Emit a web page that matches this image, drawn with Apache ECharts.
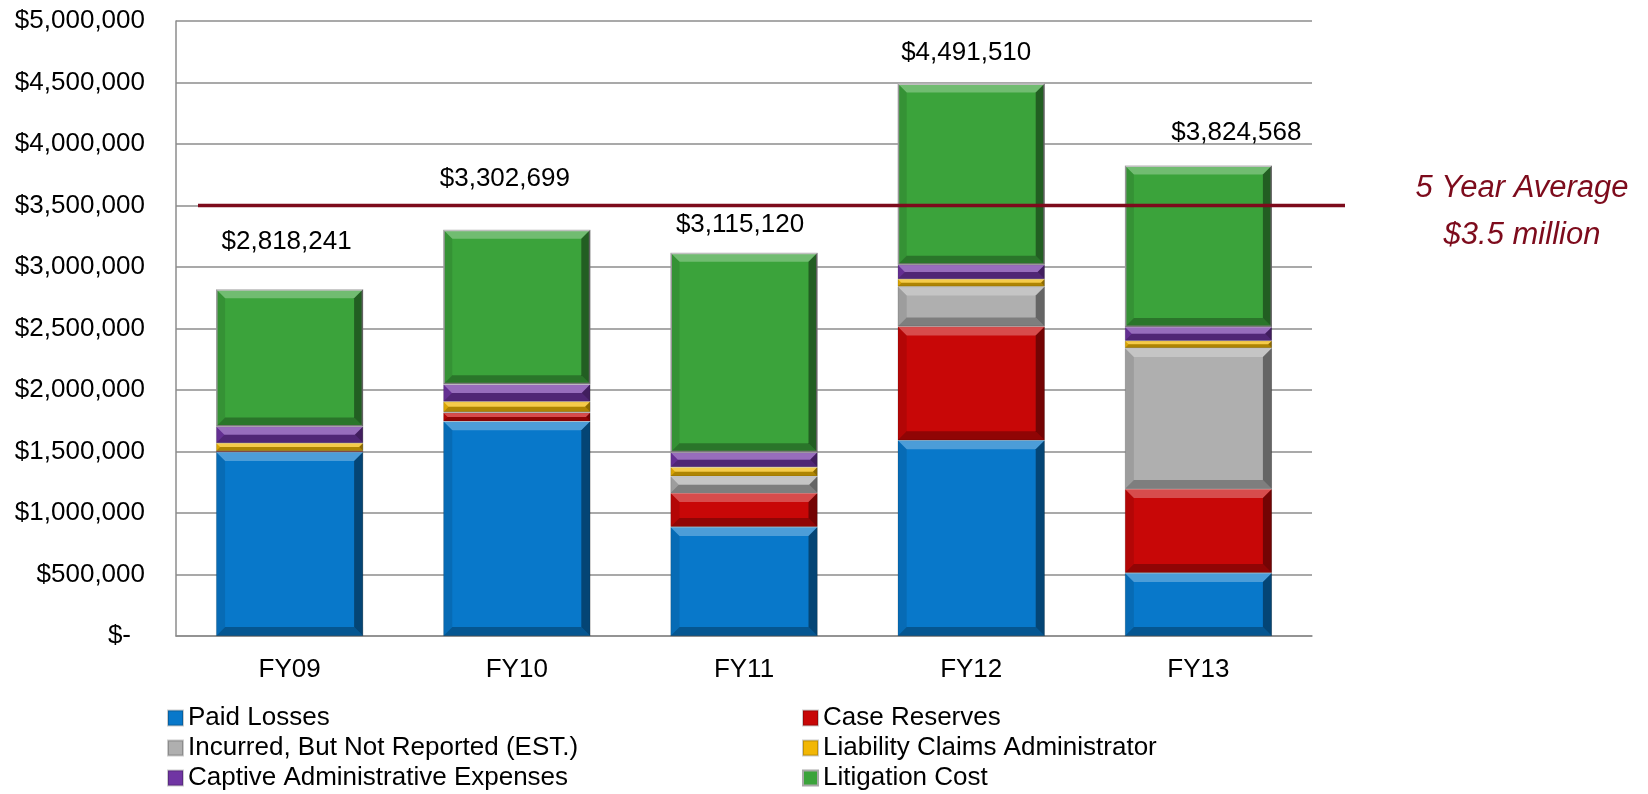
<!DOCTYPE html>
<html>
<head>
<meta charset="utf-8">
<script src="https://cdn.jsdelivr.net/npm/echarts@6/dist/echarts.min.js"></script>
<style>
  html, body { margin: 0; padding: 0; background: #fff; }
  #chart { width: 1648px; height: 794px; }
</style>
</head>
<body>
<div id="chart"></div>
<script>
// ---- data ----
const categories = ['FY09', 'FY10', 'FY11', 'FY12', 'FY13']
const paidLosses = [1496000, 1745000, 887000, 1591000, 513000]
const caseReserves = [8000, 70000, 276000, 926000, 683000]
const ibnr = [0, 6000, 135000, 325000, 1145000]
const claimsAdmin = [65000, 85000, 75000, 60000, 60000]
const captiveAdmin = [135000, 140000, 120000, 116000, 111000]
const litigation = [1114241, 1256699, 1622120, 1473510, 1312568]
const totals = [2818241, 3302699, 3115120, 4491510, 3824568]
const fiveYearAverage = 3500000
const averageText = ['5 Year Average', '$3.5 million']

// label nudges (pixels), as placed in the original
const totalLabelOffsets = [[-3, -30], [-12, -33], [-4, -10], [-5, -13], [38, -15]]

const FONT = '"Liberation Sans", Arial, sans-serif'
const FS = 26
const AVG_COLOR = '#7D0B1C'
const BAR_W = 147

const seriesDefs = [
  { name: 'Paid Losses', data: paidLosses, color: '#0878CA' },
  { name: 'Case Reserves', data: caseReserves, color: '#C80707' },
  { name: 'Incurred, But Not Reported (EST.)', data: ibnr, color: '#AFAFAF' },
  { name: 'Liability Claims Administrator', data: claimsAdmin, color: '#F2B705' },
  { name: 'Captive Administrative Expenses', data: captiveAdmin, color: '#7035A3' },
  { name: 'Litigation Cost', data: litigation, color: '#3BA33B' },
]

const money = (v) => '$' + Math.round(v).toLocaleString('en-US')

const chart = echarts.init(document.getElementById('chart'))

const series = seriesDefs.map((s, i) => {
  const isTop = i === seriesDefs.length - 1
  return {
    name: s.name,
    type: 'bar',
    stack: 'total',
    barWidth: BAR_W,
    itemStyle: {
      color: s.color,
      borderColor: isTop ? '#A8A8A8' : 'rgba(0,0,0,0.2)',
      borderWidth: isTop ? 1.5 : 0.6,
    },
    emphasis: { disabled: true },
    data: isTop
      ? s.data.map((v, j) => ({ value: v, label: { offset: totalLabelOffsets[j] } }))
      : s.data,
    label: isTop ? {
      show: true,
      position: 'top',
      distance: 5,
      fontFamily: FONT,
      fontSize: FS,
      color: '#000',
      formatter: (p) => money(totals[p.dataIndex]),
    } : { show: false },
  }
})

// bevel shading drawn over each stacked segment
function renderBevel(params, api) {
  const idx = api.value(0)
  const children = []
  let base = 0
  seriesDefs.forEach((s) => {
    const v = s.data[idx]
    if (v > 0) {
      const pb = api.coord([idx, base])
      const pt = api.coord([idx, base + v])
      const xl = pb[0] - BAR_W / 2
      const xr = pb[0] + BAR_W / 2
      const yb = pb[1]
      const yt = pt[1]
      const b = Math.min(9, (yb - yt) / 2)
      const poly = (points, fill) => children.push({
        type: 'polygon', shape: { points }, style: { fill }, silent: true,
      })
      poly([[xl, yt], [xr, yt], [xr - b, yt + b], [xl + b, yt + b]], 'rgba(255,255,255,0.28)')
      poly([[xl, yb], [xr, yb], [xr - b, yb - b], [xl + b, yb - b]], 'rgba(0,0,0,0.28)')
      poly([[xr, yt], [xr, yb], [xr - b, yb - b], [xr - b, yt + b]], 'rgba(0,0,0,0.42)')
      poly([[xl, yt], [xl, yb], [xl + b, yb - b], [xl + b, yt + b]], 'rgba(0,0,0,0.1)')
    }
    base += v
  })
  return { type: 'group', children }
}

series.push({
  type: 'custom',
  name: 'bevel',
  silent: true,
  z: 3,
  renderItem: renderBevel,
  encode: { x: 0 },
  data: categories.map((c, i) => [i]),
})

const legendBase = {
  orient: 'vertical',
  top: 703,
  padding: 0,
  itemGap: 0,
  itemWidth: 15,
  itemHeight: 15,
  icon: 'rect',
  selectedMode: false,
  textStyle: { fontFamily: FONT, fontSize: FS, lineHeight: 30, color: '#000' },
}

chart.setOption({
  animation: false,
  grid: { left: 176, right: 336, top: 21, bottom: 158 },
  legend: [
    Object.assign({}, legendBase, { left: 167, data: [seriesDefs[0].name, seriesDefs[2].name, seriesDefs[4].name] }),
    Object.assign({}, legendBase, { left: 802, data: [seriesDefs[1].name, seriesDefs[3].name, seriesDefs[5].name] }),
  ],
  xAxis: {
    type: 'category',
    data: categories,
    axisLine: { lineStyle: { color: '#8C8C8C', width: 1.5 } },
    axisTick: { show: false },
    axisLabel: { margin: 21, fontFamily: FONT, fontSize: FS, color: '#000' },
  },
  yAxis: {
    type: 'value',
    min: 0,
    max: 5000000,
    interval: 500000,
    axisLine: { show: true, lineStyle: { color: '#8C8C8C', width: 1.5 } },
    axisTick: { show: false },
    splitLine: { lineStyle: { color: '#8C8C8C', width: 1.5 } },
    axisLabel: {
      margin: 31,
      fontFamily: FONT,
      fontSize: FS,
      color: '#000',
      formatter: (v) => (v === 0 ? '{z|$-}' : money(v)),
      rich: { z: { fontFamily: FONT, fontSize: FS, color: '#000', padding: [0, 14, 0, 0] } },
    },
  },
  series,
})

// 5-year average line and its note, placed through the value axis
function drawAverage() {
  const y = chart.convertToPixel({ yAxisIndex: 0 }, fiveYearAverage)
  const gridRect = chart.getModel().getComponent('grid').coordinateSystem.getRect()
  const x0 = gridRect.x + 22
  const x1 = gridRect.x + gridRect.width + 33
  const note = (text, dy) => ({
    type: 'text',
    z: 100,
    x: 1522,
    y: y + dy,
    style: {
      text,
      fill: AVG_COLOR,
      font: 'italic 31px ' + FONT,
      align: 'center',
      verticalAlign: 'middle',
    },
  })
  chart.setOption({
    graphic: [
      {
        type: 'line',
        z: 100,
        shape: { x1: x0, y1: y, x2: x1, y2: y },
        style: { stroke: AVG_COLOR, lineWidth: 3.5 },
      },
      note(averageText[0], -17),
      note(averageText[1], 30),
    ],
  })
}
drawAverage()
</script>
</body>
</html>
